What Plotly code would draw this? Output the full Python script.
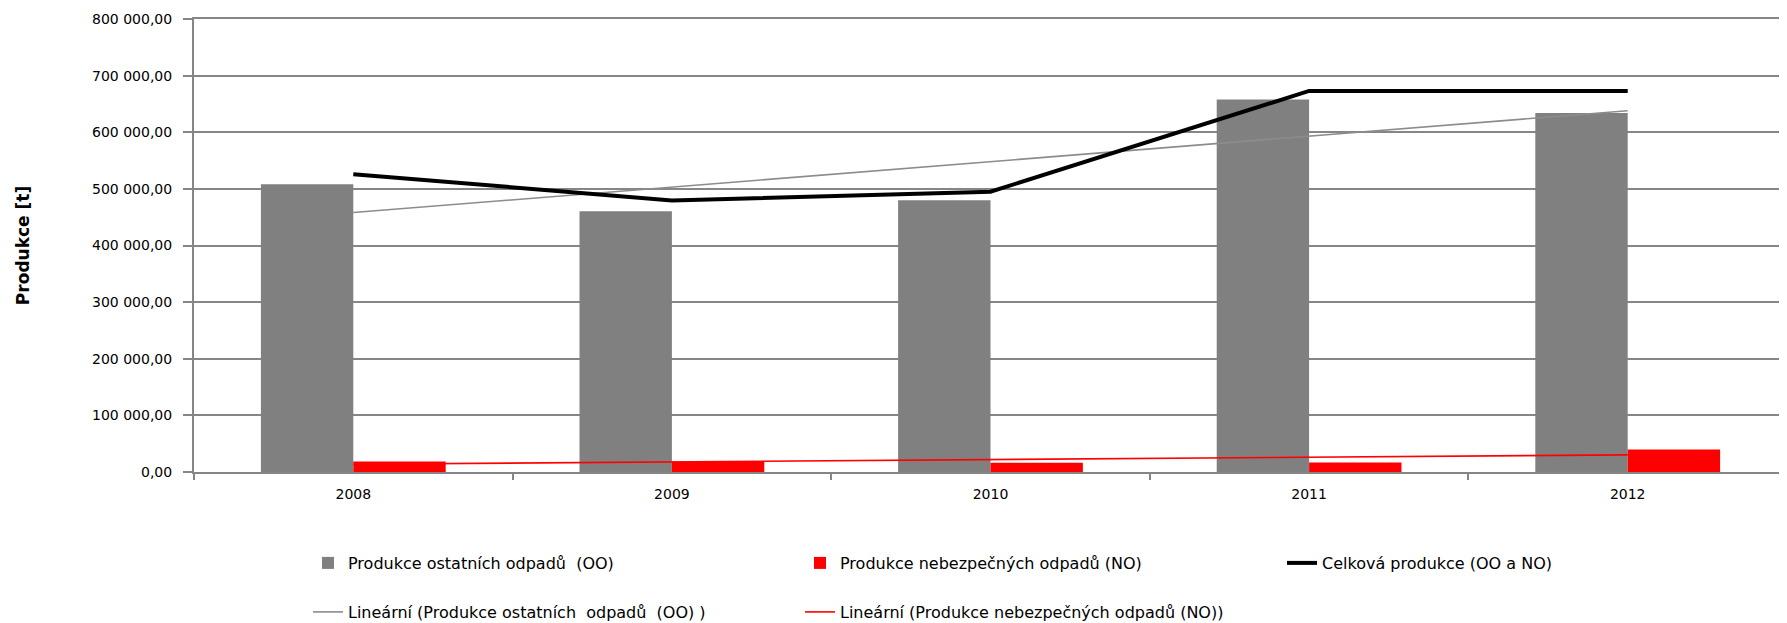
import numpy as np
import plotly.graph_objects as go

years = ["2008", "2009", "2010", "2011", "2012"]
ostatni = [508000, 460500, 480000, 658000, 634000]      # Produkce ostatních odpadů (OO)
nebezpecne = [18500, 18000, 16500, 16800, 39800]         # Produkce nebezpečných odpadů (NO)
celkova = [526000, 479500, 495000, 673000, 673000]       # Celková produkce (OO a NO)
y_ticks = [0, 100000, 200000, 300000, 400000, 500000, 600000, 700000, 800000]

# Linear trendlines (as Excel "Lineární") fitted to the series
idx = np.arange(1, len(years) + 1)
k_oo, q_oo = np.polyfit(idx, ostatni, 1)
k_no, q_no = np.polyfit(idx, nebezpecne, 1)
trend_oo = k_oo * idx + q_oo
trend_no = k_no * idx + q_no

FONT = "DejaVu Sans"
# page body has an 8px margin, so the figure is made 8px smaller each way
W, H = 1779, 615

fig = go.Figure()
fig.add_trace(go.Bar(x=years, y=ostatni, name="Produkce ostatních odpadů  (OO)",
                     marker=dict(color="#808080", line=dict(width=0)), legend="legend"))
fig.add_trace(go.Bar(x=years, y=nebezpecne, name="Produkce nebezpečných odpadů (NO)",
                     marker=dict(color="#FF0000", line=dict(width=0)), legend="legend2"))
fig.add_trace(go.Scatter(x=years, y=trend_oo, mode="lines",
                         name="Lineární (Produkce ostatních  odpadů  (OO) )",
                         line=dict(color="#8c8c8c", width=1.6), legend="legend4"))
fig.add_trace(go.Scatter(x=years, y=trend_no, mode="lines",
                         name="Lineární (Produkce nebezpečných odpadů (NO))",
                         line=dict(color="#FF0000", width=1.6), legend="legend5"))
fig.add_trace(go.Scatter(x=years, y=celkova, mode="lines",
                         name="Celková produkce (OO a NO)",
                         line=dict(color="#000000", width=4), legend="legend3"))

def leg(xpx, ypx):
    return dict(xref="container", yref="container", x=xpx / W, y=1 - ypx / H,
                xanchor="left", yanchor="middle", orientation="h",
                font=dict(family=FONT, size=16, color="#000000"),
                bgcolor="rgba(0,0,0,0)", borderwidth=0)

fig.update_layout(
    width=W, height=H,
    margin=dict(l=186, r=0, t=11, b=151, pad=0, autoexpand=False),
    paper_bgcolor="white", plot_bgcolor="white",
    barmode="group", bargap=0.42, bargroupgap=0.0,
    separators=", ",
    font=dict(family=FONT, size=14, color="#000000"),
    showlegend=True,
    legend=leg(300, 555),
    legend2=leg(792, 555),
    legend3=leg(1274, 555),
    legend4=leg(300, 604),
    legend5=leg(792, 604),
)
fig.update_xaxes(
    type="category", showgrid=False, showline=True, linecolor="#868686", linewidth=2,
    mirror=True, automargin=False,
    ticks="outside", tickson="boundaries", ticklen=6, tickcolor="#868686", tickwidth=2,
    tickfont=dict(family=FONT, size=14, color="#000000"), ticklabelstandoff=8,
)
fig.update_yaxes(
    range=[0, 800000], tickvals=y_ticks, tickformat=",.2f", automargin=False,
    showgrid=True, gridcolor="#868686", gridwidth=2,
    showline=True, linecolor="#868686", linewidth=2,
    ticks="outside", ticklen=9, tickcolor="#868686", tickwidth=2,
    tickfont=dict(family=FONT, size=14, color="#000000"), ticklabelstandoff=8,
    zeroline=False,
    title=dict(text="<b>Produkce [t]</b>", font=dict(family=FONT, size=17, color="#000000"),
               standoff=58),
)

fig.write_html("out.html")
